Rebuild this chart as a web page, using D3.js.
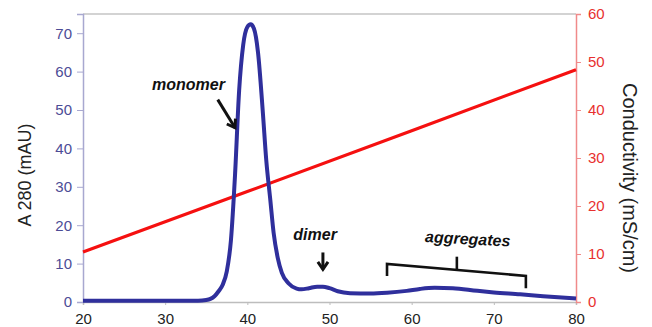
<!DOCTYPE html>
<html>
<head>
<meta charset="utf-8">
<script src="https://cdn.jsdelivr.net/npm/d3@7"></script>
<style>
  body { margin: 0; background: #fff; }
  text { font-family: "Liberation Sans", Arial, sans-serif; }
</style>
</head>
<body>
<div id="chart"></div>
<script>
// elution volume (x) and absorbance at 280 nm
const volume = [20, 30, 34, 35, 35.5, 36, 36.5, 37, 37.5, 38, 38.5, 39, 39.5, 40, 40.4, 40.8, 41.3, 41.9, 42.3, 42.8, 43.2, 43.7, 44.2, 45, 46, 46.6, 47.5, 48.5, 49.2, 50, 51, 52.5, 55, 57, 59.4, 61, 62.8, 65, 68, 70, 73.2, 76, 80];
const a280 = [0.3, 0.3, 0.3, 0.5, 0.8, 1.5, 2.8, 4.5, 8, 16, 33, 55, 67, 71.6, 72.3, 71.2, 65, 49, 37, 26.5, 18, 11.5, 7.6, 4.9, 3.5, 3.3, 3.6, 4.0, 4.0, 3.6, 2.8, 2.3, 2.2, 2.4, 2.9, 3.4, 3.7, 3.6, 2.9, 2.5, 2.0, 1.5, 0.9];

// conductivity gradient
const condVolume = [20, 40, 60, 80];
const conductivity = [10.4, 23.0, 35.7, 48.4];

const xTicks = [20, 30, 40, 50, 60, 70, 80];
const leftTicks = [0, 10, 20, 30, 40, 50, 60, 70];
const rightTicks = [0, 10, 20, 30, 40, 50, 60];

const width = 652, height = 327;
const margin = {top: 14, right: 76, bottom: 25, left: 83};

const svg = d3.select('#chart')
    .append('svg')
    .attr('width', width)
    .attr('height', height);

const xScale = d3.scaleLinear().domain([20, 80]).range([margin.left, width - margin.right]);
const yScale = d3.scaleLinear().domain([0, 75]).range([height - margin.bottom, margin.top]);
const y2Scale = d3.scaleLinear().domain([0, 60]).range([height - margin.bottom, margin.top]);

// top border
svg.append('line')
    .attr('x1', xScale(20)).attr('x2', xScale(80))
    .attr('y1', margin.top).attr('y2', margin.top)
    .attr('stroke', '#c4c4c4').attr('stroke-width', 1.5);

// bottom axis
const xAxis = svg.append('g')
    .attr('transform', `translate(0,${height - margin.bottom})`)
    .call(d3.axisBottom(xScale).tickValues(xTicks).tickSize(3).tickPadding(8));
xAxis.select('.domain').attr('stroke', '#bdbdbd').attr('stroke-width', 1.5);
xAxis.selectAll('.tick line').attr('stroke', '#bdbdbd');
xAxis.selectAll('text').attr('fill', '#222').style('font-size', '15px');

// left axis
const yAxis = svg.append('g')
    .attr('transform', `translate(${margin.left},0)`)
    .call(d3.axisLeft(yScale).tickValues(leftTicks).tickSize(6).tickPadding(5));
yAxis.select('.domain').attr('stroke', '#a8a8d0').attr('stroke-width', 1.5);
yAxis.selectAll('.tick line').attr('stroke', '#a8a8d0');
yAxis.selectAll('text').attr('fill', '#4c4c96').style('font-size', '15px');

// right axis
const y2Axis = svg.append('g')
    .attr('transform', `translate(${width - margin.right},0)`)
    .call(d3.axisRight(y2Scale).tickValues(rightTicks).tickSize(5).tickPadding(7));
y2Axis.select('.domain').attr('stroke', '#f08a8a').attr('stroke-width', 1.5);
y2Axis.selectAll('.tick line').attr('stroke', '#f08a8a');
y2Axis.selectAll('text').attr('fill', '#e8302f').style('font-size', '15px');

// axis titles
svg.append('text')
    .attr('transform', 'translate(25,175) rotate(-90)')
    .attr('text-anchor', 'middle')
    .attr('dy', '0.35em')
    .attr('fill', '#222')
    .style('font-size', '18px')
    .text('A 280 (mAU)');

svg.append('text')
    .attr('transform', 'translate(630,178) rotate(90)')
    .attr('text-anchor', 'middle')
    .attr('dy', '0.35em')
    .attr('fill', '#222')
    .style('font-size', '20px')
    .text('Conductivity (mS/cm)');

// conductivity line
const condLine = d3.line()
    .x((d, i) => xScale(condVolume[i]))
    .y(d => y2Scale(d));
svg.append('path')
    .datum(conductivity)
    .attr('d', condLine)
    .attr('fill', 'none')
    .attr('stroke', '#f51010')
    .attr('stroke-width', 3.2);

// absorbance trace
const absLine = d3.line()
    .x((d, i) => xScale(volume[i]))
    .y(d => yScale(d))
    .curve(d3.curveMonotoneX);
svg.append('path')
    .datum(a280)
    .attr('d', absLine)
    .attr('fill', 'none')
    .attr('stroke', '#2f2f9c')
    .attr('stroke-width', 4)
    .attr('stroke-linejoin', 'round');

// annotations (data coordinates)
const ann = svg.append('g')
    .attr('fill', '#111')
    .style('font-size', '16px')
    .style('font-weight', 'bold')
    .style('font-style', 'italic');

ann.append('text').attr('x', xScale(28.4)).attr('y', yScale(55.2)).text('monomer');
ann.append('text').attr('x', xScale(45.6)).attr('y', yScale(16.1)).text('dimer');
ann.append('text')
    .attr('transform', `translate(${xScale(61.6)},${yScale(15.6)}) rotate(3)`)
    .text('aggregates');

function arrow(x1, y1, x2, y2) {
    const px1 = xScale(x1), py1 = yScale(y1), px2 = xScale(x2), py2 = yScale(y2);
    const a = Math.atan2(py2 - py1, px2 - px1), len = 9, spread = 0.6;
    svg.append('line')
        .attr('x1', px1).attr('y1', py1).attr('x2', px2).attr('y2', py2)
        .attr('stroke', '#111').attr('stroke-width', 3);
    svg.append('path')
        .attr('d', `M${px2 - len * Math.cos(a - spread)},${py2 - len * Math.sin(a - spread)}L${px2},${py2}L${px2 - len * Math.cos(a + spread)},${py2 - len * Math.sin(a + spread)}`)
        .attr('fill', 'none').attr('stroke', '#111').attr('stroke-width', 3)
        .attr('stroke-linejoin', 'miter');
}
arrow(36.4, 52.7, 38.5, 45.4);
arrow(49.2, 12.9, 49.2, 8.5);

// bracket over aggregates
const bracket = [[57.0, 6.8], [57.0, 9.9], [73.9, 6.8], [73.9, 3.6]];
svg.append('path')
    .attr('d', d3.line().x(d => xScale(d[0])).y(d => yScale(d[1]))(bracket))
    .attr('fill', 'none').attr('stroke', '#111').attr('stroke-width', 2.6);
svg.append('line')
    .attr('x1', xScale(65.5)).attr('x2', xScale(65.5))
    .attr('y1', yScale(8.3)).attr('y2', yScale(11.8))
    .attr('stroke', '#111').attr('stroke-width', 2.6);
</script>
</body>
</html>
